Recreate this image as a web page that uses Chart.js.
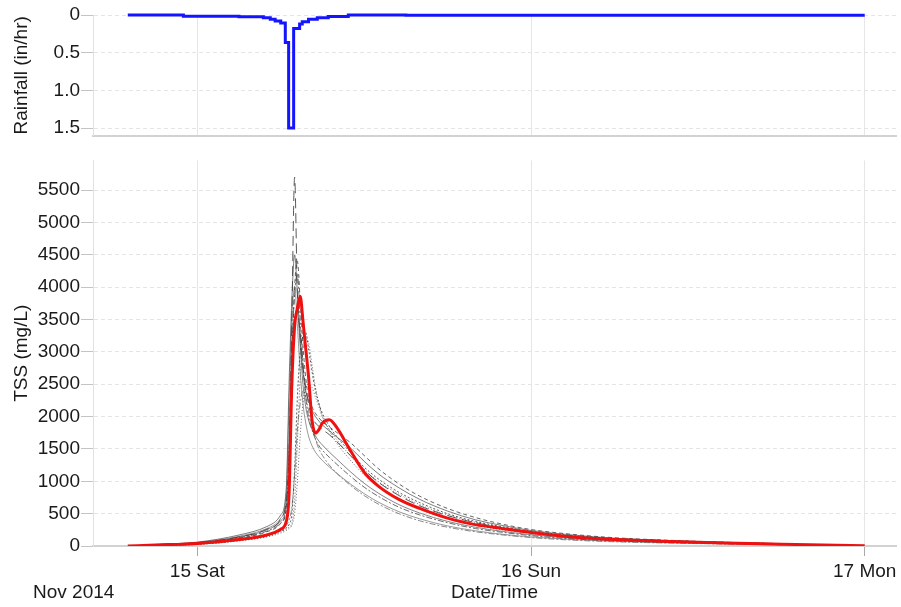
<!DOCTYPE html>
<html>
<head>
<meta charset="utf-8">
<title>Rainfall and TSS</title>
<script src="https://cdn.jsdelivr.net/npm/chart.js@4.4.0/dist/chart.umd.min.js"></script>
<style>
  html, body { margin: 0; padding: 0; background: #fff; }
  #wrap { position: relative; width: 901px; height: 607px; }
  #rainBox { position: absolute; left: 0; top: 0; width: 901px; height: 148px; }
  #tssBox { position: absolute; left: 0; top: 148px; width: 901px; height: 459px; }
</style>
</head>
<body>
<div id="wrap">
  <div id="rainBox"><canvas id="rainChart"></canvas></div>
  <div id="tssBox"><canvas id="tssChart"></canvas></div>
</div>
<script>
// time is in hours from Nov 15 2014 00:00
const dayTicks = [0, 24, 48];
const dayLabels = ['15 Sat', '16 Sun', '17 Mon'];
const yearLabel = 'Nov 2014';

const rainTimes = [-5, -1, 3, 4.75, 5.25, 5.6, 6.0, 6.33, 6.57, 6.93, 7.36, 7.55, 8.0, 8.63, 9.42, 10.86, 15, 48];
const rainValues = [0, 0.015, 0.022, 0.035, 0.055, 0.08, 0.105, 0.365, 1.5, 0.18, 0.12, 0.09, 0.057, 0.035, 0.02, 0, 0.004, 0.004];
const rainTicks = [0, 0.5, 1, 1.5];

const tssTimes = [-5, -3, 0, 3, 5, 6, 6.4, 6.6, 6.8, 7.0, 7.2, 7.4, 7.6, 7.8, 8.0, 8.25, 8.5, 8.75, 9.0, 9.5,
  10, 11, 12, 13, 14.5, 16, 18, 20, 22, 24, 27, 30, 34, 38, 42, 45, 48];
const tssObserved = [0, 15, 40, 100, 170, 260, 380, 800, 2500, 3400, 3680, 3860, 3480, 3050, 2620, 1950, 1745, 1800, 1900, 1950,
  1840, 1480, 1140, 930, 720, 580, 430, 330, 268, 210, 140, 100, 70, 45, 28, 15, 5];
const tssRun1 = [null, 10, 50, 140, 260, 420, 700, 1300, 3500, 5700, 3900, 3300, 2800, 2450, 2200, 2000, 1900, 1850, 1800, 1720,
  1620, 1400, 1180, 990, 780, 620, 470, 360, 280, 215, 150, 110, 75, 50, 30];
const tssRun2 = [null, 20, 60, 170, 300, 480, 900, 2500, 3800, 4500, 3900, 3200, 2700, 2400, 2250, 2100, 2000, 1930, 1870, 1780,
  1690, 1520, 1310, 1120, 900, 720, 540, 405, 315, 240, 170, 120, 82, 55, 35];
const tssRun3 = [null, 5, 30, 90, 160, 230, 280, 330, 500, 1200, 2300, 3000, 3250, 3300, 3050, 2700, 2400, 2200, 2050, 1850,
  1700, 1450, 1220, 1040, 830, 670, 500, 380, 295, 228, 160, 118, 82, 56, 36];
const tssRun4 = [null, 15, 45, 130, 230, 360, 600, 1500, 3000, 3900, 4200, 3500, 2800, 2300, 2000, 1800, 1650, 1550, 1480, 1370,
  1270, 1080, 910, 770, 600, 480, 360, 270, 210, 160, 110, 80, 55, 38, 25];
const tssRun5 = [null, 5, 25, 80, 140, 200, 240, 270, 320, 500, 1000, 1700, 2200, 2450, 2500, 2450, 2300, 2150, 2000, 1800,
  1650, 1400, 1180, 1000, 800, 640, 480, 365, 285, 220, 155, 112, 78, 52, 33];
const tssRun6 = [null, 20, 55, 150, 270, 430, 800, 2200, 3500, 4000, 3400, 2700, 2200, 1900, 1700, 1550, 1450, 1380, 1320, 1220,
  1130, 960, 810, 680, 530, 420, 310, 235, 180, 140, 100, 72, 50, 34, 22];
const tssRun7 = [null, 10, 40, 120, 220, 350, 550, 1100, 2800, 4000, 4400, 3800, 3100, 2600, 2300, 2150, 2050, 1980, 1920, 1840,
  1760, 1600, 1400, 1200, 960, 770, 580, 440, 335, 255, 180, 128, 88, 58, 36];
const tssRun8 = [null, 5, 25, 80, 150, 220, 260, 290, 350, 700, 1600, 2600, 3100, 3200, 3150, 2800, 2450, 2200, 2000, 1780,
  1600, 1330, 1100, 920, 720, 570, 420, 320, 250, 195, 135, 100, 70, 47, 30];
const tssRun9 = [null, 15, 50, 140, 250, 390, 650, 1600, 3100, 3500, 3600, 3100, 2500, 2150, 1950, 1800, 1700, 1620, 1560, 1450,
  1350, 1150, 970, 820, 640, 510, 380, 290, 225, 175, 120, 88, 62, 42, 27];
const tssRun10 = [null, 5, 30, 90, 170, 250, 320, 400, 600, 1100, 1800, 2200, 2400, 2300, 2100, 1850, 1650, 1500, 1400, 1250,
  1130, 940, 780, 650, 500, 390, 290, 220, 170, 130, 90, 65, 45, 30, 20];
const tssTicks = [0, 500, 1000, 1500, 2000, 2500, 3000, 3500, 4000, 4500, 5000, 5500];

const fontFamily = "'Liberation Sans', Arial, sans-serif";
Chart.defaults.font.family = fontFamily;
Chart.defaults.font.size = 19;
Chart.defaults.color = '#1a1a1a';

function toPoints(times, values) {
    return times.map((t, i) => ({ x: t, y: values[i] === undefined ? null : values[i] }));
}

function timeAxis(showLabels) {
    return {
        type: 'linear',
        min: -7.5,
        max: 50.25,
        afterBuildTicks: s => { s.ticks = dayTicks.map(v => ({ value: v })); },
        afterFit: s => { s.height = showLabels ? 61 : 12; },
        ticks: {
            display: showLabels,
            autoSkip: false,
            maxRotation: 0,
            padding: 4,
            callback: (v, i) => dayLabels[i]
        },
        grid: { color: '#e6e6e6', drawTicks: showLabels, tickLength: 10, tickColor: '#a8a8a8' },
        border: { color: '#d2d2d2', width: 2 },
        title: { display: showLabels, text: 'Date/Time', padding: { top: 0, bottom: 3 } }
    };
}

function valueAxis(title, ticks, max, reverse, fmt) {
    return {
        type: 'linear',
        min: 0,
        max: max,
        reverse: reverse,
        afterBuildTicks: s => { s.ticks = ticks.map(v => ({ value: v })); },
        afterFit: s => { s.width = 93; },
        ticks: { padding: 1, callback: fmt },
        grid: { color: '#e4e4e4', drawTicks: true, tickLength: 12, tickColor: '#c4c4c4', tickBorderDash: [] },
        border: { color: '#e2e2e2', width: 1, dash: [4, 3] },
        title: { display: true, text: title, padding: { top: 10, bottom: 0 } }
    };
}

const yearPlugin = {
    id: 'yearLabel',
    afterDraw(chart) {
        const ctx = chart.ctx;
        ctx.save();
        ctx.font = '19px ' + fontFamily;
        ctx.fillStyle = '#1a1a1a';
        ctx.textAlign = 'left';
        ctx.textBaseline = 'middle';
        ctx.fillText(yearLabel, 33, chart.height - 14);
        ctx.restore();
    }
};

const baseOptions = {
    responsive: true,
    maintainAspectRatio: false,
    animation: false,
    events: [],
    plugins: { legend: { display: false }, tooltip: { enabled: false } }
};

new Chart(document.getElementById('rainChart'), {
    type: 'line',
    data: {
        datasets: [{
            data: toPoints(rainTimes, rainValues),
            borderColor: '#1414ff',
            borderWidth: 3,
            stepped: true,
            pointRadius: 0,
            clip: 5
        }]
    },
    options: {
        ...baseOptions,
        layout: { padding: { top: 15, right: 5, left: 0, bottom: 0 } },
        scales: {
            x: timeAxis(false),
            y: valueAxis('Rainfall (in/hr)', rainTicks, 1.6, true, v => v === 0 ? '0' : v.toFixed(1))
        }
    }
});

// gray lines: individual model runs, red: observed
const runStyles = [
    { values: tssRun1, color: 'rgba(60,60,60,0.85)', dash: [10, 5] },
    { values: tssRun2, color: 'rgba(70,70,70,0.7)', dash: [] },
    { values: tssRun3, color: 'rgba(50,50,50,0.8)', dash: [2, 2] },
    { values: tssRun4, color: 'rgba(60,60,60,0.75)', dash: [6, 2, 2, 2] },
    { values: tssRun5, color: 'rgba(60,60,60,0.75)', dash: [1, 2] },
    { values: tssRun6, color: 'rgba(110,110,110,0.7)', dash: [] },
    { values: tssRun7, color: 'rgba(50,50,50,0.75)', dash: [4, 3] },
    { values: tssRun8, color: 'rgba(60,60,60,0.8)', dash: [1, 2] },
    { values: tssRun9, color: 'rgba(80,80,80,0.7)', dash: [] },
    { values: tssRun10, color: 'rgba(90,90,90,0.7)', dash: [6, 2, 2, 2] }
];

const tssDatasets = [{
    data: toPoints(tssTimes, tssObserved),
    borderColor: '#f01010',
    borderWidth: 3,
    pointRadius: 0,
    cubicInterpolationMode: 'monotone'
}];
runStyles.forEach(r => {
    tssDatasets.push({
        data: toPoints(tssTimes, r.values),
        borderColor: r.color,
        borderWidth: 1,
        borderDash: r.dash,
        pointRadius: 0,
        cubicInterpolationMode: 'monotone'
    });
});

new Chart(document.getElementById('tssChart'), {
    type: 'line',
    data: { datasets: tssDatasets },
    options: {
        ...baseOptions,
        layout: { padding: { top: 12, right: 5, left: 0, bottom: 0 } },
        scales: {
            x: timeAxis(true),
            y: valueAxis('TSS (mg/L)', tssTicks, 5960, false, v => String(v))
        }
    },
    plugins: [yearPlugin]
});
</script>
</body>
</html>
